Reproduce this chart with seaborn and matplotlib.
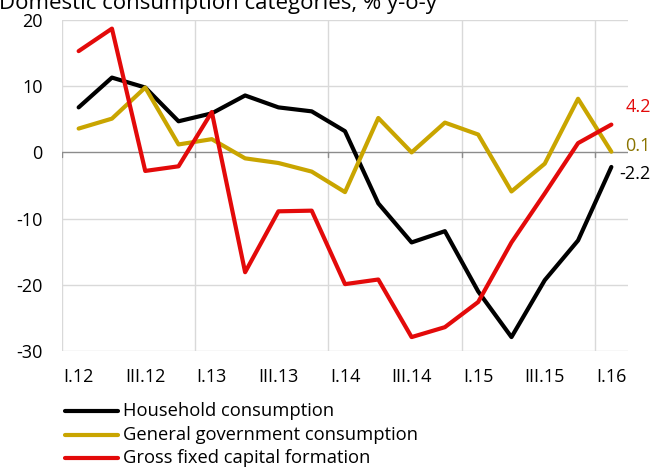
import matplotlib
matplotlib.use("Agg")
import matplotlib.pyplot as plt
import seaborn as sns
import pandas as pd

quarters = ["I.12", "II.12", "III.12", "IV.12", "I.13", "II.13", "III.13", "IV.13",
            "I.14", "II.14", "III.14", "IV.14", "I.15", "II.15", "III.15", "IV.15", "I.16"]
household = [6.8, 11.3, 9.8, 4.7, 5.9, 8.6, 6.8, 6.2,
             3.2, -7.7, -13.6, -11.9, -21.0, -27.9, -19.3, -13.3, -2.2]
government = [3.6, 5.1, 9.8, 1.2, 2.0, -0.9, -1.6, -2.9,
              -6.0, 5.2, 0.0, 4.5, 2.7, -5.9, -1.7, 8.1, 0.1]
gfcf = [15.3, 18.7, -2.8, -2.1, 6.1, -18.1, -8.9, -8.8,
        -19.9, -19.2, -27.9, -26.4, -22.6, -13.6, -6.2, 1.4, 4.2]
series_names = ["Household consumption", "General government consumption",
                "Gross fixed capital formation"]
tick_labels = ["I.12", "III.12", "I.13", "III.13", "I.14", "III.14", "I.15", "III.15", "I.16"]
yticks = [20, 10, 0, -10, -20, -30]

colors = ["#000000", "#C9A500", "#E30A0A"]
label_colors = ["#000000", "#8A7400", "#E30A0A"]

sns.set_theme(style="white")
plt.rcParams["font.family"] = ["Open Sans", "DejaVu Sans"]

df = pd.DataFrame({
    "idx": list(range(len(quarters))) * 3,
    "value": household + government + gfcf,
    "series": [series_names[0]] * len(quarters) + [series_names[1]] * len(quarters)
              + [series_names[2]] * len(quarters),
})

W, H = 654, 468
fig = plt.figure(figsize=(W / 100, H / 100), dpi=100)
ax = fig.add_axes([62 / W, 1 - 351 / H, (628 - 62) / W, (351 - 20) / H])

sns.lineplot(data=df, x="idx", y="value", hue="series", palette=colors,
             linewidth=3.0, ax=ax, legend=False, sort=False)

ax.set_xlim(-0.5, len(quarters) - 0.5)
ax.set_ylim(-30, 20)

# horizontal gridlines and year separators
grid_c = "#D9D9D9"
for y in yticks:
    if y != 0:
        ax.axhline(y, color=grid_c, lw=1.0, zorder=0)
for xv in [-0.5, 3.5, 7.5, 11.5, 15.5]:
    ax.axvline(xv, color=grid_c, lw=1.0, zorder=0)
ax.axhline(0, color="#8C8C8C", lw=1.0, zorder=1)
for xv in [-0.5, 3.5, 7.5, 11.5, 15.5]:
    ax.plot([xv, xv], [0, -0.7], color="#8C8C8C", lw=1.0, zorder=1)

for s in ax.spines.values():
    s.set_visible(False)

ax.set_yticks(yticks)
ax.set_yticklabels([str(v) for v in yticks], fontsize=13, color="#000000")
ax.set_xticks([quarters.index(t) for t in tick_labels])
ax.set_xticklabels(tick_labels, fontsize=13, color="#000000")
ax.tick_params(axis="both", length=0)
ax.tick_params(axis="x", pad=12)
ax.tick_params(axis="y", pad=14)
ax.set_xlabel("")
ax.set_ylabel("")

# end-of-series value labels, right-aligned at the figure edge
ends = [(household[-1], 174), (government[-1], 146), (gfcf[-1], 107)]
for (val, ypix), c in zip(ends, label_colors):
    fig.text(651 / W, 1 - ypix / H, f"{val:.1f}", color=c, fontsize=13,
             va="center", ha="right")

# legend below the axes
for i, (name, c) in enumerate(zip(series_names, colors)):
    yy = 1 - (411 + 23.5 * i) / H
    fig.add_artist(plt.Line2D([65 / W, 118 / W], [yy, yy], color=c, lw=3.0,
                              solid_capstyle="round"))
    fig.text(123 / W, yy, name, fontsize=13.2, va="center", ha="left", color="#000000")

fig.text(-0.002, 1 - 9 / H, "Domestic consumption categories, % y-o-y",
         fontsize=16, ha="left", va="baseline", color="#000000")

fig.savefig("out.png", dpi=100)
